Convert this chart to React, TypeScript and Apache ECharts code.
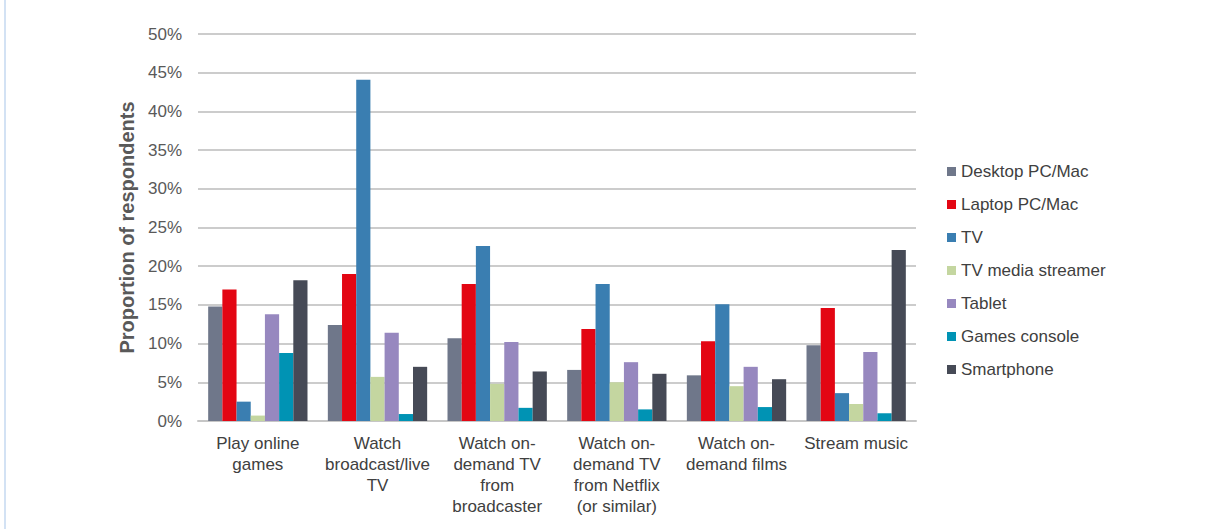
import React, { useEffect, useRef } from "react";
import * as echarts from "echarts";

const categories = [
  "Play online\ngames",
  "Watch\nbroadcast/live\nTV",
  "Watch on-\ndemand TV\nfrom\nbroadcaster",
  "Watch on-\ndemand TV\nfrom Netflix\n(or similar)",
  "Watch on-\ndemand films",
  "Stream music",
];

const desktop = [14.8, 12.4, 10.7, 6.6, 5.9, 9.8];
const laptop = [17.0, 19.0, 17.7, 11.9, 10.3, 14.6];
const tv = [2.5, 44.1, 22.6, 17.7, 15.1, 3.6];
const streamer = [0.7, 5.7, 4.8, 5.0, 4.5, 2.2];
const tablet = [13.8, 11.4, 10.2, 7.6, 7.0, 8.9];
const console_ = [8.8, 0.9, 1.7, 1.5, 1.8, 1.0];
const smartphone = [18.2, 7.0, 6.4, 6.1, 5.4, 22.1];

const seriesDefs = [
  { name: "Desktop PC/Mac", data: desktop, color: "#6f778a" },
  { name: "Laptop PC/Mac", data: laptop, color: "#e30613" },
  { name: "TV", data: tv, color: "#3a7eb1" },
  { name: "TV media streamer", data: streamer, color: "#c4d6a0" },
  { name: "Tablet", data: tablet, color: "#9788bf" },
  { name: "Games console", data: console_, color: "#0093b4" },
  { name: "Smartphone", data: smartphone, color: "#464a56" },
];

const FONT = "'Liberation Sans', Arial, sans-serif";

export default function App() {
  const ref = useRef<HTMLDivElement>(null);
  useEffect(() => {
    if (!ref.current) return;
    const chart = echarts.init(ref.current, null, { renderer: "svg" });
    chart.setOption({
      animation: false,
      backgroundColor: "#ffffff",
      textStyle: { fontFamily: FONT },
      grid: { left: 198, right: 313, top: 34, bottom: 108, containLabel: false },
      graphic: [
        {
          type: "rect",
          shape: { x: 4, y: 0, width: 2, height: 529 },
          style: { fill: "#d3e2f4" },
          silent: true,
        },
      ],
      legend: {
        orient: "vertical",
        left: 947,
        top: 163,
        padding: 0,
        itemWidth: 9,
        itemHeight: 9,
        itemGap: 16,
        icon: "rect",
        textStyle: { fontSize: 17, color: "#404040", fontFamily: FONT },
        data: seriesDefs.map((s) => s.name),
      },
      xAxis: {
        type: "category",
        data: categories,
        axisLine: { show: true, lineStyle: { color: "#c6c6c6", width: 2 } },
        axisTick: { show: false },
        axisLabel: {
          interval: 0,
          fontSize: 17,
          color: "#404040",
          lineHeight: 21,
          margin: 12,
          fontFamily: FONT,
        },
      },
      yAxis: {
        type: "value",
        min: 0,
        max: 50,
        interval: 5,
        name: "Proportion of respondents",
        nameLocation: "middle",
        nameGap: 60,
        nameTextStyle: { fontSize: 20, fontWeight: "bold", color: "#595959", fontFamily: FONT },
        axisLine: { show: false },
        axisTick: { show: false },
        axisLabel: { formatter: "{value}%", fontSize: 17, color: "#595959", margin: 16, fontFamily: FONT },
        splitLine: { lineStyle: { color: "#cccccc", width: 2 } },
      },
      series: seriesDefs.map((s) => ({
        name: s.name,
        type: "bar",
        data: s.data,
        barGap: "0%",
        barCategoryGap: "17%",
        itemStyle: { color: s.color },
      })),
    });
    return () => chart.dispose();
  }, []);
  return (
    <div
      ref={ref}
      style={{ position: "absolute", left: 0, top: 0, width: 1229, height: 529 }}
    />
  );
}
